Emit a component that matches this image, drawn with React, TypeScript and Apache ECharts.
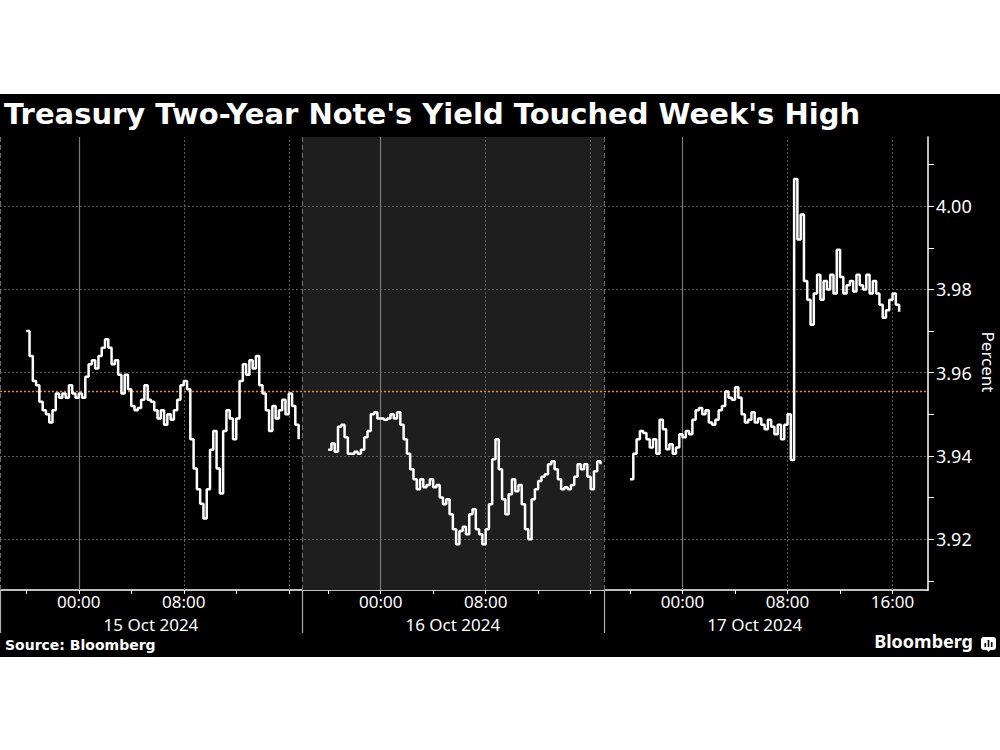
import React, { useEffect, useRef } from "react";
import * as echarts from "echarts";

// ---------- data ----------
const chartTitle = "Treasury Two-Year Note's Yield Touched Week's High";
const sourceText = "Source: Bloomberg";
const brandText = "Bloomberg";
const axisName = "Percent";

// trading sessions run 18:00 (previous day) to 17:00 ET -> 23 hours each
const sessionDates = ["15 Oct 2024", "16 Oct 2024", "17 Oct 2024"];
const sessionHours = 23;
const sessionOpenClock = 18;
const firstSampleHour = 2; // 20:00, hours after session open
const sampleStep = 0.25; // 15-minute samples

const day1Yields = [
  3.97, 3.964, 3.958, 3.957, 3.953, 3.951, 3.95, 3.948, 3.951, 3.955,
  3.954, 3.955, 3.954, 3.957, 3.955, 3.954, 3.955, 3.954, 3.959, 3.962,
  3.963, 3.961, 3.964, 3.966, 3.968, 3.966, 3.962, 3.963, 3.9595, 3.955,
  3.9595, 3.956, 3.952, 3.951, 3.9515, 3.9535, 3.957, 3.9535, 3.953, 3.951,
  3.949, 3.951, 3.9475, 3.95, 3.9487, 3.951, 3.9535, 3.957, 3.958, 3.956,
  3.944, 3.937, 3.932, 3.9285, 3.925, 3.932, 3.9415, 3.946, 3.937, 3.931,
  3.946, 3.951, 3.949, 3.944, 3.949, 3.958, 3.962, 3.9595, 3.963, 3.961,
  3.964, 3.957, 3.955, 3.951, 3.946, 3.952, 3.949, 3.951, 3.9535, 3.95,
  3.955, 3.952, 3.9475, 3.944,
];

const day2Yields = [
  3.9415, 3.943, 3.941, 3.947, 3.9475, 3.9445, 3.9405, 3.9405, 3.941, 3.9405,
  3.9415, 3.9445, 3.946, 3.95, 3.9505, 3.949, 3.949, 3.9487, 3.949, 3.95,
  3.949, 3.9505, 3.9475, 3.944, 3.9405, 3.9368, 3.9344, 3.932, 3.9344, 3.9325,
  3.933, 3.9344, 3.9325, 3.933, 3.93, 3.9284, 3.9296, 3.926, 3.9224, 3.9188,
  3.922, 3.923, 3.9212, 3.926, 3.9272, 3.9224, 3.9212, 3.9188, 3.9224, 3.9284,
  3.9392, 3.944, 3.9368, 3.9296, 3.926, 3.9308, 3.9344, 3.9315, 3.933, 3.9284,
  3.9224, 3.92, 3.9296, 3.932, 3.934, 3.935, 3.9356, 3.938, 3.9387, 3.9368,
  3.9344, 3.932, 3.9325, 3.932, 3.933, 3.935, 3.938, 3.9368, 3.938, 3.935,
  3.932, 3.9363, 3.9387, 3.938,
];

const day3Yields = [
  3.9344, 3.9405, 3.944, 3.946, 3.9455, 3.944, 3.942, 3.944, 3.9405, 3.9487,
  3.9464, 3.9416, 3.9428, 3.9405, 3.942, 3.9452, 3.9445, 3.946, 3.9452, 3.9487,
  3.951, 3.9515, 3.95, 3.951, 3.948, 3.9475, 3.9487, 3.951, 3.952, 3.9555,
  3.954, 3.9535, 3.9565, 3.954, 3.95, 3.948, 3.9487, 3.9505, 3.948, 3.949,
  3.9475, 3.9464, 3.9487, 3.947, 3.9452, 3.9475, 3.944, 3.9475, 3.95, 3.939,
  4.0065, 3.992, 3.998, 3.982, 3.9775, 3.9715, 3.979, 3.9835, 3.9775, 3.982,
  3.98, 3.9835, 3.979, 3.9895, 3.983, 3.979, 3.981, 3.982, 3.9795, 3.9835,
  3.981, 3.98, 3.9835, 3.979, 3.982, 3.979, 3.9763, 3.9732, 3.975, 3.9775,
  3.979, 3.9763, 3.9746,
];

const referenceYield = 3.9555; // orange dotted level
const yLabelValues = [3.92, 3.94, 3.96, 3.98, 4.0];
const yTickValues = [3.91, 3.92, 3.93, 3.94, 3.95, 3.96, 3.97, 3.98, 3.99, 4.0, 4.01];
const yMin = 3.9078;
const yMax = 4.0166;
const xMax = 70.7;

const xTickHours = [2, 6, 10, 14, 18, 22, 25, 29, 33, 37, 41, 45, 48, 52, 56, 60, 64, 68];
const xLabelHours = [6, 14, 29, 37, 52, 60, 68];
const midnightHours = [6, 29, 52];
const dottedHours = [14, 22, 37, 45, 60, 68];
const sessionStarts = [0, 23, 46];
const dateLabelHours = [11.5, 34.5, 57.5];

const FONT = "Noto Sans";

function toSeries(values: number[], sessionIndex: number) {
  const start = sessionIndex * sessionHours + firstSampleHour;
  return values.map((v, i) => [start + i * sampleStep, v]);
}

export default function App() {
  const ref = useRef<HTMLDivElement>(null);

  useEffect(() => {
    if (!ref.current) return;
    const chart = echarts.init(ref.current, null, { renderer: "svg" });

    const gridGrey = "#5a5a5a";
    const markLines: any[] = [];
    yLabelValues.forEach((v) =>
      markLines.push({ yAxis: v, lineStyle: { color: gridGrey, type: [2, 2], width: 1 } })
    );
    midnightHours.forEach((h) =>
      markLines.push({ xAxis: h, lineStyle: { color: "#7a7a7a", type: "solid", width: 1.2 } })
    );
    dottedHours.forEach((h) =>
      markLines.push({ xAxis: h, lineStyle: { color: gridGrey, type: [2, 2], width: 1 } })
    );
    sessionStarts.forEach((h) =>
      markLines.push({ xAxis: h, lineStyle: { color: "#6a6a6a", type: [5, 3], width: 1.2 } })
    );

    const lineSeries = [day1Yields, day2Yields, day3Yields].map((vals, idx) => ({
      type: "line",
      name: sessionDates[idx],
      data: toSeries(vals, idx),
      step: "end",
      showSymbol: false,
      symbol: "none",
      z: 5,
      lineStyle: { color: "#ffffff", width: 2.5 },
    }));

    const option: any = {
      animation: false,
      backgroundColor: "transparent",
      textStyle: { fontFamily: FONT },
      grid: {
        left: 0,
        right: 72,
        top: 137,
        bottom: 160,
        containLabel: false,
        outerBoundsMode: "none",
      },
      xAxis: [
        {
          type: "value",
          min: 0,
          max: xMax,
          position: "bottom",
          axisLine: { show: true, onZero: false, lineStyle: { color: "#ffffff", width: 1.5 } },
          axisTick: {
            show: true,
            customValues: xTickHours,
            length: 4,
            lineStyle: { color: "#ffffff", width: 1 },
          },
          axisLabel: {
            customValues: xLabelHours,
            color: "#ffffff",
            fontSize: 17,
            lineHeight: 17,
            fontFamily: FONT,
            margin: 3,
            formatter: (v: number) => {
              const clock = ((v % sessionHours) + sessionOpenClock) % 24;
              return String(Math.round(clock)).padStart(2, "0") + ":00";
            },
          },
          splitLine: { show: false },
        },
        {
          type: "value",
          min: 0,
          max: xMax,
          position: "bottom",
          axisLine: { show: false, onZero: false },
          axisTick: {
            show: true,
            customValues: sessionStarts,
            length: 43,
            lineStyle: { color: "#b0b0b0", width: 1.2 },
          },
          axisLabel: {
            customValues: dateLabelHours,
            color: "#ffffff",
            fontSize: 17,
            lineHeight: 17,
            fontFamily: FONT,
            margin: 26,
            formatter: (v: number) => sessionDates[Math.floor(v / sessionHours)] || "",
          },
          splitLine: { show: false },
        },
      ],
      yAxis: {
        type: "value",
        position: "right",
        min: yMin,
        max: yMax,
        axisLine: { show: true, onZero: false, lineStyle: { color: "#ffffff", width: 1.5 } },
        axisTick: {
          show: true,
          customValues: yTickValues,
          length: 6,
          lineStyle: { color: "#ffffff", width: 1 },
        },
        axisLabel: {
          customValues: yLabelValues,
          color: "#ffffff",
          fontSize: 18,
          fontFamily: FONT,
          margin: 8,
          formatter: (v: number) => v.toFixed(2),
        },
        splitLine: { show: false },
      },
      series: [
        {
          type: "line",
          data: [[sessionStarts[0], yMin]],
          symbol: "none",
          lineStyle: { opacity: 0 },
          silent: true,
          z: 1,
          markArea: {
            silent: true,
            itemStyle: { color: "#1e1e1e" },
            data: [[{ xAxis: sessionStarts[1] }, { xAxis: sessionStarts[2] }]],
          },
        },
        {
          type: "line",
          data: [[sessionStarts[0], yMin]],
          symbol: "none",
          lineStyle: { opacity: 0 },
          silent: true,
          z: 2,
          markLine: {
            silent: true,
            precision: 4,
            symbol: ["none", "none"],
            label: { show: false },
            data: markLines,
          },
        },
        {
          type: "line",
          name: "reference",
          data: [
            [0, referenceYield],
            [xMax, referenceYield],
          ],
          symbol: "none",
          silent: true,
          z: 3,
          lineStyle: { color: "#e8893a", type: [2, 2], width: 1.5 },
        },
        ...lineSeries,
      ],
      graphic: [
        {
          type: "text",
          left: 4,
          top: 99,
          style: {
            text: chartTitle,
            fill: "#ffffff",
            font: "bold 29px 'DejaVu Sans'",
          },
        },
        {
          type: "text",
          x: 988,
          y: 362,
          rotation: -Math.PI / 2,
          style: {
            text: axisName,
            fill: "#ffffff",
            font: "17px 'Noto Sans'",
            textAlign: "center",
            textVerticalAlign: "middle",
          },
        },
        {
          type: "text",
          left: 5,
          top: 638,
          style: {
            text: sourceText,
            fill: "#ffffff",
            font: "bold 14px 'DejaVu Sans'",
          },
        },
        {
          type: "text",
          right: 27,
          top: 632,
          style: {
            text: brandText,
            fill: "#ffffff",
            font: "bold 18px 'Noto Sans'",
          },
        },
        {
          type: "group",
          left: 981,
          top: 637,
          children: [
            { type: "rect", shape: { x: 0, y: 0, width: 15, height: 13, r: 3 }, style: { fill: "#ffffff" } },
            { type: "polygon", shape: { points: [[5, 12], [10, 12], [7.5, 15]] }, style: { fill: "#ffffff" } },
            { type: "rect", shape: { x: 3.5, y: 6, width: 1.6, height: 4 }, style: { fill: "#000" } },
            { type: "rect", shape: { x: 6.7, y: 3, width: 1.6, height: 7 }, style: { fill: "#000" } },
            { type: "rect", shape: { x: 9.9, y: 5, width: 1.6, height: 5 }, style: { fill: "#000" } },
          ],
        },
      ],
    };

    chart.setOption(option);
    return () => chart.dispose();
  }, []);

  return (
    <div
      ref={ref}
      style={{
        position: "fixed",
        left: 0,
        top: 0,
        width: 1000,
        height: 750,
        background:
          "linear-gradient(#ffffff 0px, #ffffff 94px, #000000 94px, #000000 657px, #ffffff 657px, #ffffff 750px)",
      }}
    />
  );
}
